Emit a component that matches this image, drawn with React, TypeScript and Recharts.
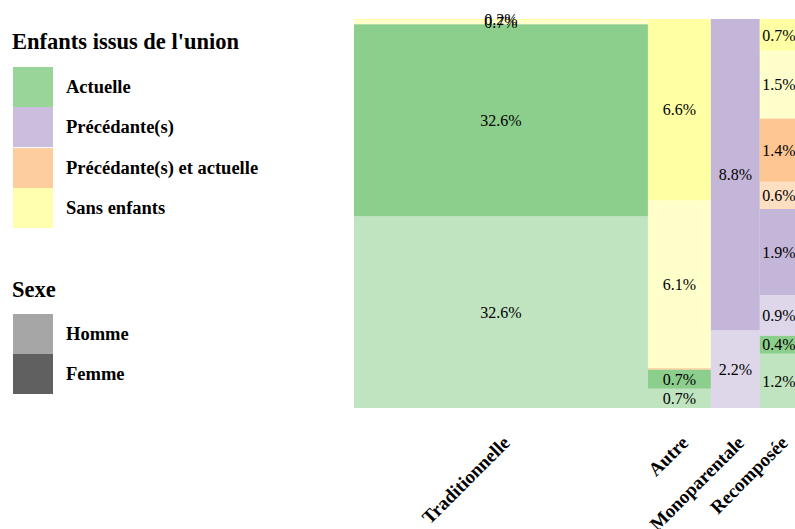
import React from 'react';
import { ComposedChart, XAxis, YAxis, ReferenceArea } from 'recharts';

const columns = ['Traditionnelle', 'Autre', 'Monoparentale', 'Recomposée'];
const categories = ['Actuelle', 'Précédante(s)', 'Précédante(s) et actuelle', 'Sans enfants'];
const sexes = ['Homme', 'Femme'];

// values (% of total) per column, per category
const hommeValues = [
  [32.6, 0, 0, 0.7],
  [0.7, 0, 0, 6.1],
  [0, 2.2, 0, 0],
  [1.2, 0.9, 0.6, 1.5],
];
const femmeValues = [
  [32.6, 0, 0, 0.2],
  [0.7, 0, 0.05, 6.6],
  [0, 8.8, 0, 0],
  [0.4, 1.9, 1.4, 0.7],
];

const baseColors = ['#7fc97f', '#beaed4', '#fdc086', '#ffff99'];
const sexOpacity = [0.5, 0.9];
const legendColors = ['#99d499', '#cbbedd', '#fdcd9e', '#ffffad'];
const legendSexColors = ['#a6a6a6', '#606060'];

const FONT = "'Liberation Serif', 'Times New Roman', serif";

const colTotals = columns.map((_, c) =>
  categories.reduce((s, _k, k) => s + hommeValues[c][k] + femmeValues[c][k], 0)
);
const grandTotal = colTotals.reduce((a, b) => a + b, 0);
const colStarts = colTotals.map((_, c) => colTotals.slice(0, c).reduce((a, b) => a + b, 0));
const colCenters = colTotals.map((t, c) => colStarts[c] + t / 2);

type Cell = { key: string; x1: number; x2: number; y1: number; y2: number; fill: string; opacity: number; value: number };
const cells: Cell[] = [];
columns.forEach((col, c) => {
  let cum = 0;
  categories.forEach((cat, k) => {
    [hommeValues[c][k], femmeValues[c][k]].forEach((v, s) => {
      if (v <= 0) return;
      const y1 = (cum / colTotals[c]) * 100;
      cum += v;
      const y2 = (cum / colTotals[c]) * 100;
      cells.push({
        key: `${col}-${cat}-${s}`,
        x1: colStarts[c],
        x2: colStarts[c] + colTotals[c],
        y1,
        y2,
        fill: baseColors[k],
        opacity: sexOpacity[s],
        value: v,
      });
    });
  });
});

const AxisTick = (props: any) => {
  const { x, y, payload } = props;
  const idx = colCenters.findIndex((v) => Math.abs(v - payload.value) < 1e-6);
  const name = idx >= 0 ? columns[idx] : '';
  const ax = x + 10;
  const ay = y + 28;
  return (
    <text
      x={ax}
      y={ay}
      textAnchor="end"
      transform={`rotate(-45, ${ax}, ${ay})`}
      fontFamily={FONT}
      fontWeight="bold"
      fontSize={19}
      fill="#000"
    >
      {name}
    </text>
  );
};

const LegendBlock = () => {
  const sw = (top: number, color: string) => (
    <div style={{ position: 'absolute', left: 13, top, width: 40, height: 40, background: color }} />
  );
  const label = (top: number, text: string) => (
    <div style={{ position: 'absolute', left: 66, top, fontSize: 18.5, fontWeight: 'bold', lineHeight: '22px', whiteSpace: 'nowrap' }}>
      {text}
    </div>
  );
  return (
    <div style={{ position: 'absolute', left: 0, top: 0, width: 300, height: 420, fontFamily: FONT, color: '#000' }}>
      <div style={{ position: 'absolute', left: 12, top: 29, fontSize: 22.5, fontWeight: 'bold', lineHeight: '26px', whiteSpace: 'nowrap' }}>
        Enfants issus de l'union
      </div>
      {categories.map((cat, i) => (
        <React.Fragment key={cat}>
          {sw(67 + i * 40.3, legendColors[i])}
          {label(76 + i * 40.3, cat)}
        </React.Fragment>
      ))}
      <div style={{ position: 'absolute', left: 12, top: 277, fontSize: 22.5, fontWeight: 'bold', lineHeight: '26px' }}>Sexe</div>
      {sexes.map((s, i) => (
        <React.Fragment key={s}>
          {sw(314 + i * 40, legendSexColors[i])}
          {label(323 + i * 40, s)}
        </React.Fragment>
      ))}
    </div>
  );
};

export default function App() {
  return (
    <div style={{ position: 'absolute', left: 0, top: 0, width: 795, height: 529, overflow: 'hidden', background: '#fff' }}>
      <ComposedChart
        width={800}
        height={529}
        data={[{ x: 0, y: 0 }]}
        margin={{ top: 19, right: 2, bottom: 0, left: 354 }}
      >
        <XAxis
          type="number"
          dataKey="x"
          domain={[0, grandTotal]}
          ticks={colCenters}
          interval={0}
          axisLine={false}
          tickLine={false}
          height={121}
          tick={<AxisTick />}
          allowDataOverflow
        />
        <YAxis type="number" domain={[0, 100]} hide allowDataOverflow />
        {cells.map((cl) => (
          <ReferenceArea
            key={cl.key}
            x1={cl.x1}
            x2={cl.x2}
            y1={cl.y1}
            y2={cl.y2}
            fill={cl.fill}
            fillOpacity={cl.opacity}
            stroke="none"
            ifOverflow="visible"
            label={
              cl.value >= 0.1
                ? {
                    value: `${cl.value.toFixed(1)}%`,
                    position: 'center',
                    fill: '#000',
                    fontSize: 16,
                    fontFamily: FONT,
                  }
                : undefined
            }
          />
        ))}
      </ComposedChart>
      <LegendBlock />
    </div>
  );
}
